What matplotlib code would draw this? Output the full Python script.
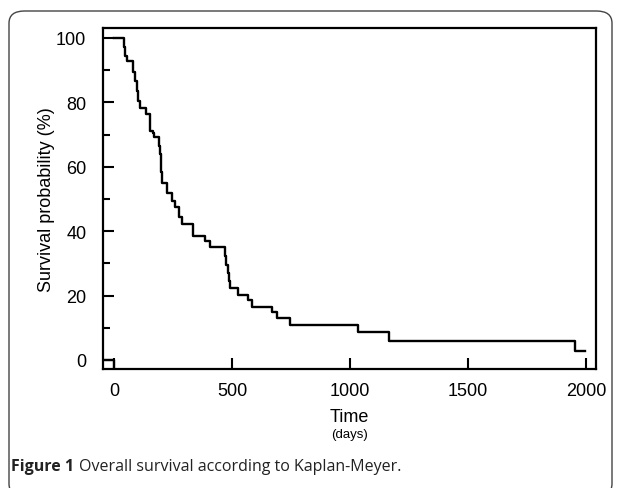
import numpy as np
import matplotlib
matplotlib.use("Agg")
import matplotlib.pyplot as plt
from matplotlib.patches import FancyBboxPatch
from matplotlib.ticker import MultipleLocator

# Kaplan-Meier steps (days, survival %)
days = [0, 42, 48, 55, 79, 89, 96, 103, 110, 136, 152, 164, 171, 191, 194, 197, 199, 202,
        226, 244, 258, 273, 287, 336, 386, 407, 470, 476, 481, 486, 491, 525, 569, 583,
        668, 689, 746, 1035, 1166, 1953, 1996]
surv = [100, 97.2, 94.4, 92.8, 89.5, 86.5, 83.5, 80.5, 78.2, 76.4, 71.0, 70.4, 69.2, 66.5,
        63.9, 61.1, 58.3, 55.0, 52.0, 49.5, 47.4, 44.3, 42.2, 38.6, 37.0, 35.0, 32.4, 29.6,
        27.0, 24.5, 22.3, 20.2, 18.7, 16.6, 15.0, 13.0, 11.0, 8.6, 5.8, 2.9, 2.9]

# little stub drawn at the origin in the original
stub_x = [-45, 0, 0]
stub_y = [0, 0, -3]

plt.rcParams['font.family'] = ['Liberation Sans', 'DejaVu Sans']

fig = plt.figure(figsize=(6.21, 4.89), dpi=100)
W, H = 621, 489

# rounded journal frame
frame = FancyBboxPatch((9 / W, -8 / H), 603 / W, (H - 12 + 8) / H,
                       boxstyle="round,pad=0,rounding_size=0.025",
                       transform=fig.transFigure, fill=False,
                       edgecolor='#444444', linewidth=1.0, clip_on=False)
fig.patches.append(frame)

ax = fig.add_axes([103 / W, 1 - 370 / H, (596 - 103) / W, (370 - 29) / H])

ax.step(days, surv, where='post', color='black', lw=1.7)
ax.plot(stub_x, stub_y, color='black', lw=1.7)

ax.set_xlim(-47, 2042)
ax.set_ylim(-2.8, 103.1)
ax.set_xticks([0, 500, 1000, 1500, 2000])
ax.set_yticks([0, 20, 40, 60, 80, 100])
ax.yaxis.set_minor_locator(MultipleLocator(10))
ax.tick_params(axis='both', which='major', direction='in', length=8, width=1.5,
               labelsize=13, colors='black')
ax.tick_params(axis='y', which='minor', direction='in', length=5, width=1.5)
ax.tick_params(axis='y', which='major', pad=12)
ax.tick_params(axis='x', which='major', pad=9)
for s in ax.spines.values():
    s.set_linewidth(1.6)

ax.set_ylabel("Survival probability (%)", fontsize=13, labelpad=1)
ax.set_xlabel("Time", fontsize=13, labelpad=7)
fig.text(349.5 / W, 1 - 435 / H, "(days)", fontsize=9.5, ha='center', va='center')

fig.text(11 / W, 1 - 467 / H, "Figure 1", fontsize=11.5, fontweight='bold',
         family='Open Sans', va='center', ha='left', color='#222222')
fig.text(79 / W, 1 - 467 / H, "Overall survival according to Kaplan-Meyer.",
         fontsize=11.5, family='Open Sans', va='center', ha='left', color='#222222')

fig.savefig("out.png", dpi=100)
